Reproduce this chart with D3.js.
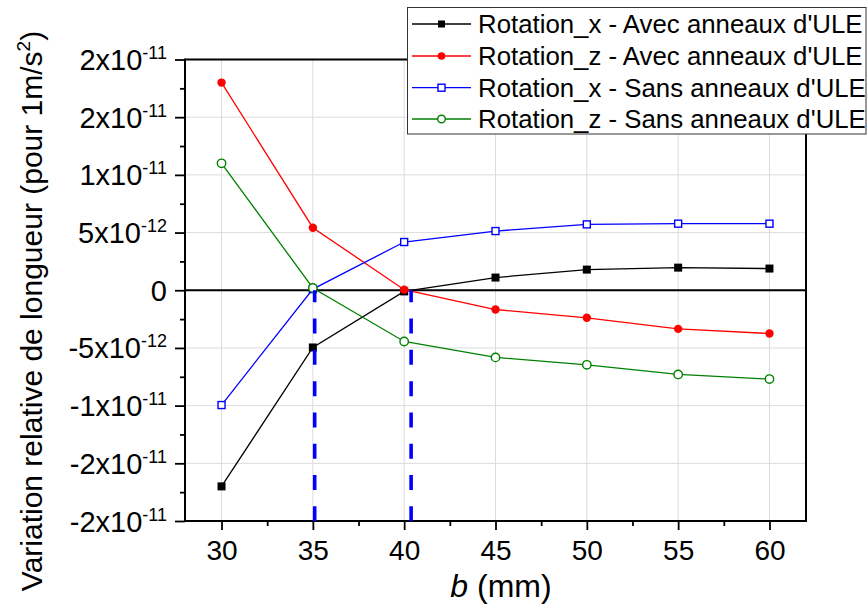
<!DOCTYPE html>
<html>
<head>
<meta charset="utf-8">
<script src="https://cdn.jsdelivr.net/npm/d3@7"></script>
<style>
  html, body { margin: 0; padding: 0; background: #fff; }
  svg { display: block; font-family: "Liberation Sans", Arial, sans-serif; }
</style>
</head>
<body>
<svg id="chart" width="868" height="616"></svg>
<script>
// ---- data ----
const bValues = [30, 35, 40, 45, 50, 55, 60];
const rotXAvec = [-1.70e-11, -4.96e-12, -0.10e-12, 1.10e-12, 1.79e-12, 1.96e-12, 1.88e-12];
const rotZAvec = [1.80e-11, 5.42e-12, 0.05e-12, -1.67e-12, -2.39e-12, -3.35e-12, -3.75e-12];
const rotXSans = [-9.95e-12, 0.10e-12, 4.18e-12, 5.13e-12, 5.71e-12, 5.77e-12, 5.77e-12];
const rotZSans = [1.10e-11, 0.20e-12, -4.44e-12, -5.82e-12, -6.46e-12, -7.30e-12, -7.70e-12];
const seriesNames = [
  "Rotation_x - Avec anneaux d'ULE",
  "Rotation_z - Avec anneaux d'ULE",
  "Rotation_x - Sans anneaux d'ULE",
  "Rotation_z - Sans anneaux d'ULE"
];
const dashedB = [35.1, 40.38];
const xTicks = [30, 35, 40, 45, 50, 55, 60];
const xMinorTicks = [32.5, 37.5, 42.5, 47.5, 52.5, 57.5];
const yTicks = [-2e-11, -1.5e-11, -1e-11, -5e-12, 0, 5e-12, 1e-11, 1.5e-11, 2e-11];
const yTickMantissa = ["-2", "-2", "-1", "-5", "0", "5", "1", "2", "2"];
const yTickExponent = ["-11", "-11", "-11", "-12", "", "-12", "-11", "-11", "-11"];
const yMinorTicks = [-1.75e-11, -1.25e-11, -7.5e-12, -2.5e-12, 2.5e-12, 7.5e-12, 1.25e-11, 1.75e-11];

// ---- styles ----
const colors = ["#000000", "#ff0000", "#0000ff", "#008000"];
const markers = ["squareFilled", "circleFilled", "squareOpen", "circleOpen"];
const seriesData = [rotXAvec, rotZAvec, rotXSans, rotZSans];

const svg = d3.select("#chart");
const L = 185, R = 806, T = 59.5, B = 521;

const x = d3.scaleLinear().domain([28, 62]).range([L, R]);
const y = d3.scaleLinear().domain([-2e-11, 2e-11]).range([B, T]);

// grid
const grid = svg.append("g").attr("stroke", "#dcdcdc").attr("stroke-width", 1);
grid.selectAll("line.gx").data(xTicks).join("line")
  .attr("x1", d => x(d)).attr("x2", d => x(d)).attr("y1", T).attr("y2", B);
grid.selectAll("line.gy").data(yTicks).join("line")
  .attr("y1", d => y(d)).attr("y2", d => y(d)).attr("x1", L).attr("x2", R);

// zero line
svg.append("line").attr("x1", L).attr("x2", R).attr("y1", y(0)).attr("y2", y(0))
  .attr("stroke", "#000").attr("stroke-width", 2);

// frame top/right
svg.append("line").attr("x1", L).attr("x2", R).attr("y1", T).attr("y2", T)
  .attr("stroke", "#000").attr("stroke-width", 2);
svg.append("line").attr("x1", R).attr("x2", R).attr("y1", T - 1).attr("y2", B + 1)
  .attr("stroke", "#000").attr("stroke-width", 2);

// x axis
const xAxisG = svg.append("g").attr("transform", `translate(0,${B})`)
  .call(d3.axisBottom(x).tickValues(xTicks).tickSize(9).tickPadding(10).tickFormat(d3.format("d")));
svg.append("g").attr("transform", `translate(0,${B})`)
  .call(d3.axisBottom(x).tickValues(xMinorTicks).tickSize(5).tickFormat(""))
  .call(g => g.select(".domain").remove());
xAxisG.select(".domain").attr("d", `M${L - 1},0H${R + 1}`);
svg.selectAll("g.tick line").attr("stroke-width", 1.8);
xAxisG.selectAll("text").attr("font-size", 28).attr("fill", "#000")
  .attr("font-family", "'Liberation Sans', Arial, sans-serif");

// y axis
const yAxisG = svg.append("g").attr("transform", `translate(${L},0)`)
  .call(d3.axisLeft(y).tickValues(yTicks).tickSize(10).tickFormat(""));
svg.append("g").attr("transform", `translate(${L},0)`)
  .call(d3.axisLeft(y).tickValues(yMinorTicks).tickSize(5).tickFormat(""))
  .call(g => g.select(".domain").remove());
yAxisG.select(".domain").attr("d", `M0,${T - 1}V${B + 1}`);
svg.selectAll(".domain").attr("stroke-width", 2);
svg.selectAll("g.tick line").attr("stroke-width", 1.8);

yAxisG.selectAll("g.tick").each(function (d, i) {
  const t = d3.select(this).select("text")
    .attr("x", -18).attr("dy", null).attr("y", 10)
    .attr("text-anchor", "end").attr("fill", "#000")
    .attr("font-size", 29).attr("font-family", "'Liberation Sans', Arial, sans-serif")
    .text(null);
  if (yTickExponent[i] === "") {
    t.append("tspan").text(yTickMantissa[i]);
  } else {
    t.append("tspan").text(yTickMantissa[i] + "x10");
    t.append("tspan").attr("font-size", 18).attr("dy", -11).text(yTickExponent[i]);
  }
});

// data lines & markers
const line = d3.line().x((d, i) => x(bValues[i])).y(d => y(d));
function drawMarker(g, type, color, cx, cy, s) {
  if (type.startsWith("square")) {
    g.append("rect").attr("x", cx - s / 2).attr("y", cy - s / 2).attr("width", s).attr("height", s)
      .attr("fill", type === "squareFilled" ? color : "#fff")
      .attr("stroke", color).attr("stroke-width", type === "squareFilled" ? 0 : 1.4);
  } else {
    g.append("circle").attr("cx", cx).attr("cy", cy).attr("r", s / 2)
      .attr("fill", type === "circleFilled" ? color : "#fff")
      .attr("stroke", color).attr("stroke-width", type === "circleFilled" ? 0 : 1.4);
  }
}
seriesData.forEach((vals, k) => {
  const g = svg.append("g");
  g.append("path").attr("d", line(vals)).attr("fill", "none")
    .attr("stroke", colors[k]).attr("stroke-width", 1.3);
  vals.forEach((v, i) => {
    const sz = markers[k].startsWith("square") ? (markers[k] === "squareFilled" ? 8 : 7) : 8.4;
    drawMarker(g, markers[k], colors[k], x(bValues[i]), y(v), sz);
  });
});

// dashed verticals
svg.selectAll("line.dash").data(dashedB).join("line")
  .attr("x1", d => x(d)).attr("x2", d => x(d))
  .attr("y1", y(0)).attr("y2", B)
  .attr("stroke", "#0000ff").attr("stroke-width", 3.6)
  .attr("stroke-dasharray", "15,16.3").attr("stroke-dashoffset", 3);

// axis titles
const xt = svg.append("text").attr("x", 501).attr("y", 597).attr("text-anchor", "middle")
  .attr("font-size", 32).attr("fill", "#000");
xt.append("tspan").attr("font-style", "italic").text("b");
xt.append("tspan").text(" (mm)");

const yt = svg.append("text").attr("transform", "translate(42,311) rotate(-90)")
  .attr("text-anchor", "middle").attr("font-size", 30).attr("fill", "#000");
yt.append("tspan").text("Variation relative de longueur (pour 1m/s");
yt.append("tspan").attr("font-size", 19).attr("dy", -12).text("2");
yt.append("tspan").attr("dy", 12).text(")");

// legend
const lg = svg.append("g");
lg.append("rect").attr("x", 407.5).attr("y", 7.5).attr("width", 458.5).attr("height", 126.5)
  .attr("fill", "#fff").attr("stroke", "#333").attr("stroke-width", 1);
const rowY = [24, 56, 87.7, 119];
seriesNames.forEach((name, k) => {
  const cy = rowY[k];
  lg.append("line").attr("x1", 412).attr("x2", 471).attr("y1", cy).attr("y2", cy)
    .attr("stroke", colors[k]).attr("stroke-width", 1.3);
  const sz = markers[k].startsWith("square") ? 7 : 7.6;
  drawMarker(lg, markers[k], colors[k], 441.5, cy, sz);
  lg.append("text").attr("x", 478).attr("y", cy + 9.4).attr("font-size", 25.8)
    .attr("fill", "#000").text(name);
});
</script>
</body>
</html>
